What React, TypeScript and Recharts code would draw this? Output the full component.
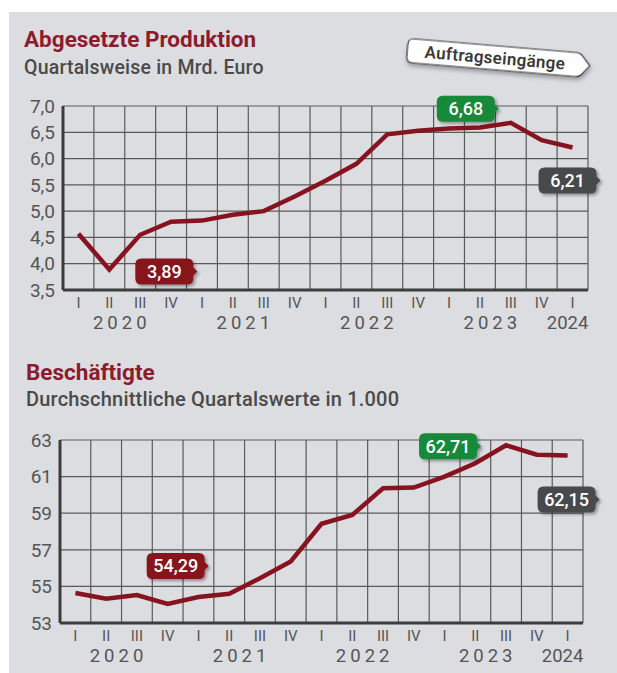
import { LineChart, Line, XAxis, YAxis, CartesianGrid } from 'recharts';

const FONT = 'Roboto, "Open Sans", sans-serif';
const PANEL = '#dcdde1';
const RED = '#86131f';
const GREEN = '#17893b';
const DARK = '#47484b';
const GRID = '#5a5a5a';
const AXIS = '#3c3c3c';
const TICK = '#555555';

// 2020 I .. 2024 I
const periods = [
  '2020 I', '2020 II', '2020 III', '2020 IV',
  '2021 I', '2021 II', '2021 III', '2021 IV',
  '2022 I', '2022 II', '2022 III', '2022 IV',
  '2023 I', '2023 II', '2023 III', '2023 IV',
  '2024 I',
];
const quarters = ['I', 'II', 'III', 'IV', 'I', 'II', 'III', 'IV', 'I', 'II', 'III', 'IV', 'I', 'II', 'III', 'IV', 'I'];
const years = [
  { text: '2020', index: 1, spaced: true },
  { text: '2021', index: 5, spaced: true },
  { text: '2022', index: 9, spaced: true },
  { text: '2023', index: 13, spaced: true },
  { text: '2024', index: 16, spaced: false },
];

// Abgesetzte Produktion, Mrd. Euro
const production = [4.57, 3.89, 4.55, 4.8, 4.82, 4.93, 5.0, 5.28, 5.58, 5.9, 6.46, 6.53, 6.57, 6.59, 6.68, 6.35, 6.21];
const productionTicks = [3.5, 4, 4.5, 5, 5.5, 6, 6.5, 7];

// Beschäftigte, in 1.000
const employees = [54.64, 54.33, 54.53, 54.04, 54.42, 54.6, 55.45, 56.36, 58.42, 58.9, 60.36, 60.4, 61.0, 61.73, 62.71, 62.2, 62.15];
const employeeTicks = [53, 55, 57, 59, 61, 63];

const productionCallouts = [
  { index: 1, text: '3,89', fill: RED, dx: 57, dy: 2 },
  { index: 14, text: '6,68', fill: GREEN, dx: -43, dy: -14 },
  { index: 16, text: '6,21', fill: DARK, dx: -3, dy: 33 },
];
const employeeCallouts = [
  { index: 3, text: '54,29', fill: RED, dx: 10, dy: -38 },
  { index: 14, text: '62,71', fill: GREEN, dx: -56, dy: 1 },
  { index: 16, text: '62,15', fill: DARK, dx: 1, dy: 44 },
];

type Callout = { index: number; text: string; fill: string; dx: number; dy: number };

function tagPath(w: number, h: number, r: number, tip: number) {
  return `M ${r} 0 H ${w - r} Q ${w} 0 ${w} ${r} V ${h / 2 - tip} L ${w + tip} ${h / 2} L ${w} ${h / 2 + tip} V ${h - r} Q ${w} ${h} ${w - r} ${h} H ${r} Q 0 ${h} 0 ${h - r} V ${r} Q 0 0 ${r} 0 Z`;
}

function makeDot(callouts: Callout[]) {
  return (props: any) => {
    const { cx, cy, index } = props;
    const c = callouts.find((d) => d.index === index);
    if (!c || cx == null || cy == null) return <g key={`dot-${index}`} />;
    const w = 58;
    const h = 26;
    const x0 = cx + c.dx - (w + 4) / 2;
    const y0 = cy + c.dy - h / 2;
    return (
      <g key={`dot-${index}`} transform={`translate(${x0},${y0})`}>
        <path d={tagPath(w, h, 6, 4)} fill={c.fill} filter="url(#boxShadow)" />
        <text x={w / 2} y={h / 2 + 6.5} textAnchor="middle" fill="#fff" fontSize={18} fontWeight={500} fontFamily={FONT}>
          {c.text}
        </text>
      </g>
    );
  };
}

function makeTick(bandSize: number) {
  return (props: any) => {
    const { x, y, payload } = props;
    const i = payload.index;
    const yr = years.find((d) => d.index === i);
    return (
      <g>
        <text x={x} y={y + 10} textAnchor="middle" fill={TICK} fontSize={15} fontWeight={400} fontFamily={FONT}>
          {quarters[i]}
        </text>
        {yr && (
          <text
            x={yr.spaced ? x + bandSize / 2 - 3 : x - 5}
            y={y + 31}
            textAnchor="middle"
            fill={TICK}
            fontSize={18.5}
            fontWeight={400}
            letterSpacing={yr.spaced ? 4 : 0}
            fontFamily={FONT}
          >
            {yr.text}
          </text>
        )}
      </g>
    );
  };
}

function Panel(props: {
  values: number[];
  ticks: number[];
  format: (v: number) => string;
  callouts: Callout[];
  width: number;
  height: number;
  margin: { top: number; right: number; bottom: number; left: number };
}) {
  const { values, ticks, format, callouts, width, height, margin } = props;
  const data = periods.map((p, i) => ({ period: p, value: values[i] }));
  const plotW = width - margin.left - margin.right - 50;
  return (
    <LineChart width={width} height={height} data={data} margin={margin}>
      <defs>
        <filter id="boxShadow" x="-20%" y="-20%" width="150%" height="160%">
          <feDropShadow dx="2" dy="2" stdDeviation="1.5" floodColor="#000" floodOpacity="0.35" />
        </filter>
      </defs>
      <CartesianGrid
        stroke={GRID}
        strokeWidth={1.2}
        verticalCoordinatesGenerator={({ offset }: any) =>
          Array.from({ length: periods.length + 1 }, (_, i) => offset.left + (offset.width * i) / periods.length)
        }
      />
      <XAxis
        dataKey="period"
        scale="band"
        interval={0}
        tickLine={false}
        axisLine={{ stroke: AXIS, strokeWidth: 3 }}
        height={44}
        tick={makeTick(plotW / periods.length)}
      />
      <YAxis
        type="number"
        domain={[ticks[0], ticks[ticks.length - 1]]}
        ticks={ticks}
        interval={0}
        width={50}
        tickLine={false}
        axisLine={{ stroke: AXIS, strokeWidth: 3 }}
        tickFormatter={format}
        tick={{ fill: TICK, fontSize: 19, fontFamily: FONT, fontWeight: 400 }}
      />
      <Line
        type="linear"
        dataKey="value"
        stroke={RED}
        strokeWidth={4.5}
        dot={makeDot(callouts)}
        activeDot={false}
        isAnimationActive={false}
      />
    </LineChart>
  );
}

export default function App() {
  return (
    <div style={{ position: 'absolute', left: 0, top: 0, width: 617, height: 673, overflow: 'hidden', fontFamily: FONT }}>
      <div style={{ position: 'absolute', left: 9, top: 12, width: 608, height: 661, background: PANEL }} />
      <div style={{ position: 'absolute', left: 0, top: 0 }}>
        <Panel
          values={production}
          ticks={productionTicks}
          format={(v) => v.toFixed(1).replace('.', ',')}
          callouts={productionCallouts}
          width={617}
          height={340}
          margin={{ top: 106, right: 29, bottom: 6, left: 13 }}
        />
      </div>
      <div style={{ position: 'absolute', left: 0, top: 340 }}>
        <Panel
          values={employees}
          ticks={employeeTicks}
          format={(v) => String(v)}
          callouts={employeeCallouts}
          width={617}
          height={333}
          margin={{ top: 100, right: 34, bottom: 6, left: 10 }}
        />
      </div>
      <svg width={617} height={673} style={{ position: 'absolute', left: 0, top: 0, pointerEvents: 'none' }}>
        <defs>
          <filter id="tagShadow" x="-10%" y="-40%" width="120%" height="200%">
            <feDropShadow dx="1" dy="3" stdDeviation="2" floodColor="#000" floodOpacity="0.3" />
          </filter>
        </defs>
        <text x={24} y={47} fill="#8c1c2d" fontSize={22.5} fontWeight={700} fontFamily={FONT}>
          Abgesetzte Produktion
        </text>
        <text x={24} y={74} fill="#4a4a4a" fontSize={19.5} fontWeight={500} letterSpacing={0.2} fontFamily={FONT}>
          Quartalsweise in Mrd. Euro
        </text>
        <text x={26} y={380} fill="#8c1c2d" fontSize={22.5} fontWeight={700} fontFamily={FONT}>
          Beschäftigte
        </text>
        <text x={26} y={406} fill="#4a4a4a" fontSize={20} fontWeight={500} letterSpacing={0.2} fontFamily={FONT}>
          Durchschnittliche Quartalswerte in 1.000
        </text>
        <g transform="translate(498,58) rotate(4.8)">
          <path
            d="M -85 -12 H 78 Q 82 -12 84 -9 L 92 0 L 84 10 Q 82 12 78 12 H -85 Q -91 12 -91 6 V -6 Q -91 -12 -85 -12 Z"
            fill="#fff"
            stroke="#333"
            strokeWidth={1.2}
            filter="url(#tagShadow)"
          />
          <text x={-3} y={6} textAnchor="middle" fill="#3a3a3a" fontSize={17} fontWeight={600} letterSpacing={0.3} fontFamily={FONT}>
            Auftragseingänge
          </text>
        </g>
      </svg>
    </div>
  );
}
